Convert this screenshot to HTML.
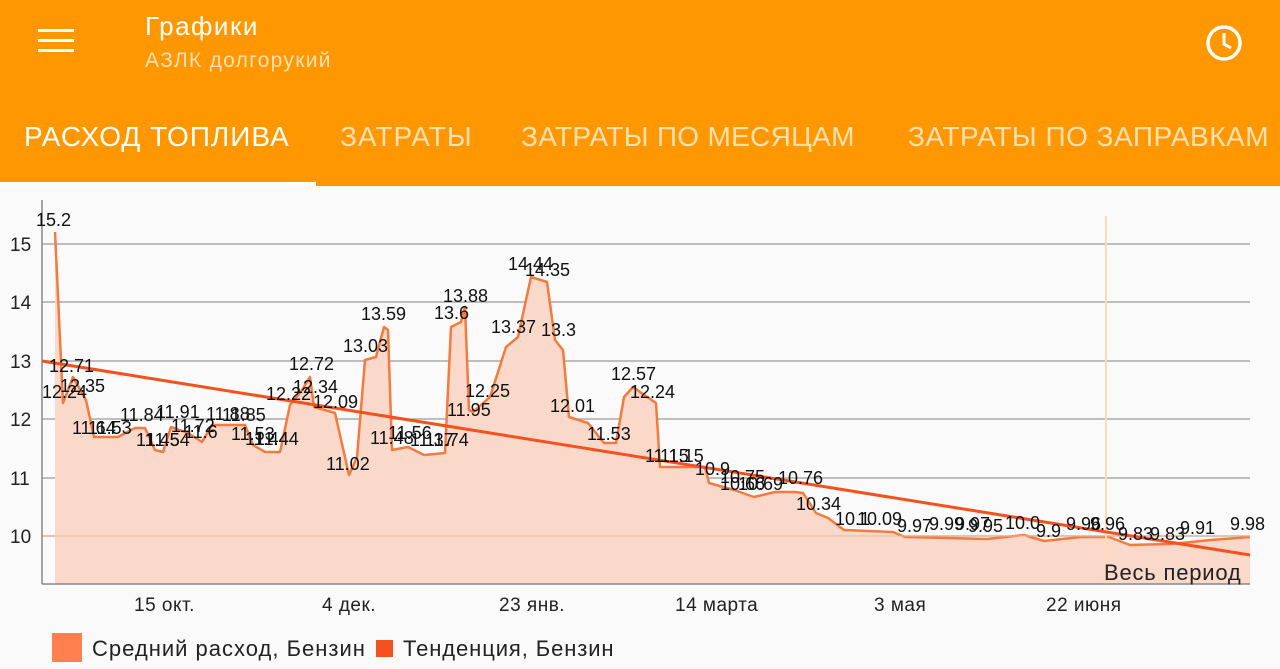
<!DOCTYPE html>
<html><head><meta charset="utf-8"><style>
body{margin:0;width:1280px;height:669px;overflow:hidden;background:#FAFAFA;font-family:"Liberation Sans","DejaVu Sans",sans-serif}
#hdr{position:absolute;left:0;top:0;width:1280px;height:186px;background:#FF9800}
.t{position:absolute;white-space:nowrap}
</style></head><body>
<div id="hdr">
<div style="position:absolute;left:38px;top:29px;width:36px;height:3px;background:#fff"></div>
<div style="position:absolute;left:38px;top:39px;width:36px;height:3px;background:#fff"></div>
<div style="position:absolute;left:38px;top:49px;width:36px;height:3px;background:#fff"></div>
<div class="t" style="left:145px;top:11px;font-size:26px;letter-spacing:1.5px;color:#fff">Графики</div>
<div class="t" style="left:145px;top:49px;font-size:21px;letter-spacing:1.3px;color:#FFE0B2">АЗЛК долгорукий</div>
<svg style="position:absolute;left:1203px;top:22px" width="42" height="42"><circle cx="21" cy="21" r="16" fill="none" stroke="#fff" stroke-width="3.5"/><path d="M21 11V22L28 26" fill="none" stroke="#fff" stroke-width="3"/></svg>
<div class="t" style="left:24px;top:121px;font-size:28px;letter-spacing:1px;color:#fff">РАСХОД ТОПЛИВА</div>
<div class="t" style="left:340px;top:121px;font-size:28px;letter-spacing:1px;color:#FFE0B2">ЗАТРАТЫ</div>
<div class="t" style="left:521px;top:121px;font-size:28px;letter-spacing:0.3px;color:#FFE0B2">ЗАТРАТЫ ПО МЕСЯЦАМ</div>
<div class="t" style="left:908px;top:121px;font-size:28px;letter-spacing:0.5px;color:#FFE0B2">ЗАТРАТЫ ПО ЗАПРАВКАМ</div>
<div style="position:absolute;left:0;top:182px;width:316px;height:4px;background:#fff"></div>
</div>
<svg style="position:absolute;left:0;top:0" width="1280" height="669" font-family="Liberation Sans, sans-serif">
<g stroke="#AAAAAA" stroke-width="1.5">
<line x1="42" y1="244" x2="1250" y2="244"/><line x1="42" y1="302" x2="1250" y2="302"/><line x1="42" y1="361" x2="1250" y2="361"/><line x1="42" y1="419" x2="1250" y2="419"/><line x1="42" y1="478" x2="1250" y2="478"/><line x1="42" y1="536" x2="1250" y2="536"/>
</g>
<path d="M55,232 L63,403 L73,377 L86,400 L94,437 L118,437 L135,428 L145,428 L155,450 L163,452 L171,427 L188,433 L202,442 L212,425 L245,425 L253,445 L265,452 L280,452 L290,405 L302,390 L310,377 L314,407 L335,413 L349,475 L357,457 L365,360 L376,357 L384,327 L388,330 L392,450 L408,447 L424,455 L445,453 L451,327 L461,322 L465,307 L469,410 L473,412 L490,397 L506,347 L518,337 L531,277 L547,282 L555,340 L563,350 L569,417 L588,423 L604,443 L616,443 L624,397 L633,387 L640,392 L656,403 L660,467 L705,467 L709,483 L734,490 L754,497 L775,492 L795,492 L803,493 L816,513 L828,518 L844,530 L893,532 L905,537 L987,539 L1024,535 L1044,541 L1081,537 L1109,537 L1130,545 L1171,544 L1211,540 L1250,537 L1250,584 L55,584 Z" fill="#FBD9CA" stroke="none"/>
<path d="M55,232 L63,403 L73,377 L86,400 L94,437 L118,437 L135,428 L145,428 L155,450 L163,452 L171,427 L188,433 L202,442 L212,425 L245,425 L253,445 L265,452 L280,452 L290,405 L302,390 L310,377 L314,407 L335,413 L349,475 L357,457 L365,360 L376,357 L384,327 L388,330 L392,450 L408,447 L424,455 L445,453 L451,327 L461,322 L465,307 L469,410 L473,412 L490,397 L506,347 L518,337 L531,277 L547,282 L555,340 L563,350 L569,417 L588,423 L604,443 L616,443 L624,397 L633,387 L640,392 L656,403 L660,467 L705,467 L709,483 L734,490 L754,497 L775,492 L795,492 L803,493 L816,513 L828,518 L844,530 L893,532 L905,537 L987,539 L1024,535 L1044,541 L1081,537 L1109,537 L1130,545 L1171,544 L1211,540 L1250,537" fill="none" stroke="#F47B40" stroke-width="2.5" stroke-linejoin="round"/>
<line x1="42" y1="536" x2="1250" y2="536" stroke="#E8B89A" stroke-width="1"/>
<line x1="1106" y1="216" x2="1106" y2="584" stroke="#FFD9B0" stroke-width="2"/>
<line x1="42" y1="361" x2="1250" y2="555" stroke="#F4511E" stroke-width="3"/>
<line x1="42" y1="200" x2="42" y2="584" stroke="#888" stroke-width="1.5"/>
<line x1="42" y1="584" x2="1250" y2="584" stroke="#888" stroke-width="1.5"/>
<g font-size="19" fill="#222">
<text x="10" y="251">15</text><text x="10" y="309">14</text><text x="10" y="368">13</text><text x="10" y="426">12</text><text x="10" y="485">11</text><text x="10" y="543">10</text>
<text x="134" y="611" letter-spacing="0.5">15 окт.</text><text x="322" y="611" letter-spacing="0.5">4 дек.</text><text x="499" y="611" letter-spacing="0.5">23 янв.</text><text x="675" y="611" letter-spacing="0.5">14 марта</text><text x="874" y="611" letter-spacing="0.5">3 мая</text><text x="1046" y="611" letter-spacing="0.5">22 июня</text>
</g>
<text x="1104" y="580" font-size="22" letter-spacing="0.8" fill="#222">Весь период</text>
<g font-size="18" fill="#111">
<text x="36" y="226">15.2</text><text x="49" y="372">12.71</text><text x="42" y="398">12.24</text><text x="60" y="392">12.35</text>
<text x="72" y="434">11.64</text><text x="88" y="434">11.53</text><text x="120" y="421">11.84</text><text x="136" y="446">11.45</text><text x="146" y="446">11.54</text>
<text x="156" y="418">11.91</text><text x="171" y="432">11.72</text><text x="184" y="438">11.6</text><text x="206" y="420">11.88</text><text x="222" y="421">11.85</text>
<text x="231" y="440">11.53</text><text x="245" y="445">11.44</text><text x="255" y="445">11.44</text><text x="266" y="400">12.22</text><text x="289" y="370">12.72</text>
<text x="293" y="393">12.34</text><text x="313" y="408">12.09</text><text x="326" y="470">11.02</text><text x="343" y="352">13.03</text><text x="361" y="320">13.59</text>
<text x="370" y="444">11.48</text><text x="388" y="439">11.56</text><text x="410" y="446">11.37</text><text x="425" y="446">11.74</text><text x="434" y="319">13.6</text>
<text x="443" y="302">13.88</text><text x="465" y="397">12.25</text><text x="447" y="416">11.95</text><text x="491" y="333">13.37</text><text x="508" y="270">14.44</text>
<text x="525" y="276">14.35</text><text x="541" y="336">13.3</text><text x="550" y="412">12.01</text><text x="587" y="440">11.53</text><text x="611" y="380">12.57</text>
<text x="630" y="398">12.24</text><text x="645" y="462">11.15</text><text x="660" y="462">11.15</text><text x="695" y="475">10.9</text><text x="720" y="483">10.75</text>
<text x="720" y="490">10.66</text><text x="738" y="490">10.69</text><text x="778" y="484">10.76</text><text x="796" y="510">10.34</text><text x="835" y="525">10.1</text>
<text x="857" y="525">10.09</text><text x="897" y="532">9.97</text><text x="929" y="530">9.99</text><text x="955" y="530">9.97</text><text x="968" y="532">9.95</text>
<text x="1005" y="529">10.0</text><text x="1036" y="537">9.9</text><text x="1066" y="530">9.96</text><text x="1090" y="530">9.96</text><text x="1118" y="540">9.83</text>
<text x="1150" y="540">9.83</text><text x="1180" y="534">9.91</text><text x="1230" y="530">9.98</text>
</g>
<rect x="52" y="633" width="30" height="29" fill="#FF7F4F"/>
<text x="92" y="656" font-size="22" letter-spacing="1" fill="#222">Средний расход, Бензин</text>
<rect x="376" y="640" width="17" height="17" fill="#F4511E"/>
<text x="403" y="656" font-size="22" letter-spacing="0.9" fill="#222">Тенденция, Бензин</text>
</svg>
</body></html>
